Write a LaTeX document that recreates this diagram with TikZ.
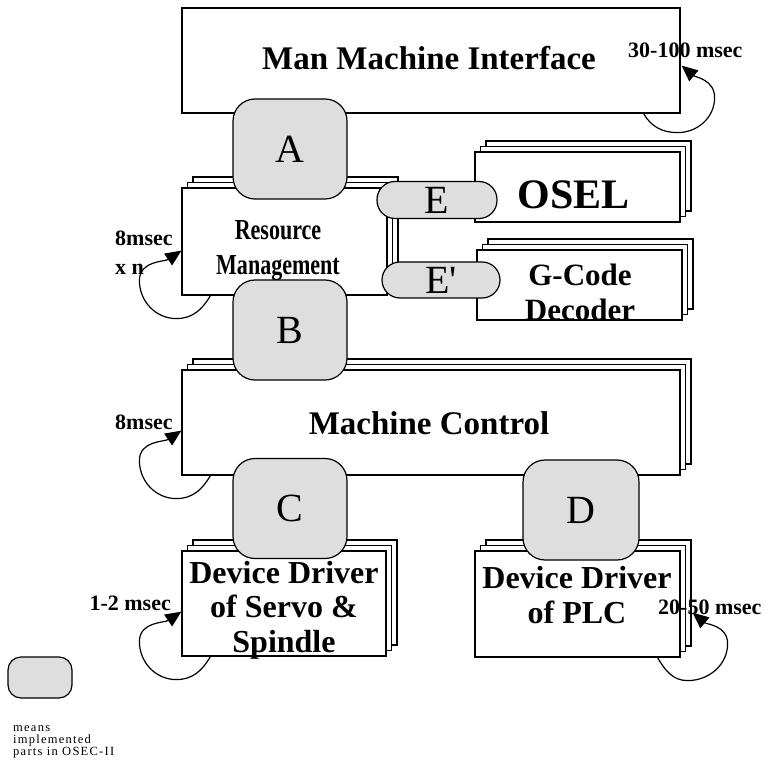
\documentclass[tikz,border=0pt]{standalone}
\usepackage{fontspec}
\setmainfont{Liberation Serif}
\usetikzlibrary{shadows,arrows.meta,calc}

\tikzset{
  layer/.style={draw, fill=white, line width=1.2pt, rectangle, inner sep=0pt},
  stackbox/.style={layer, double copy shadow={shadow xshift=5.5pt, shadow yshift=5.5pt,
      fill=white, draw=black, line width=1.2pt}},
  impl/.style={draw, fill=black!13, line width=1.2pt, rounded corners=22pt,
    minimum width=114pt, minimum height=100pt, inner sep=0pt,
    font=\fontsize{40}{40}\selectfont},
  pill/.style={impl, rounded corners=18pt, minimum width=120pt, minimum height=37pt},
  title/.style={font=\bfseries\fontsize{33}{35}\selectfont, align=center, inner sep=0pt},
  timing/.style={font=\bfseries\fontsize{22}{29}\selectfont, inner sep=0pt, align=left},
  cycle/.style={line width=1.2pt, -{Triangle[length=16pt,width=14pt]}},
  legendtext/.style={font=\fontsize{12.5}{12}\selectfont\addfontfeature{LetterSpace=10},
    align=left, inner sep=0pt},
}

\begin{document}
\begin{tikzpicture}[x=1pt,y=1pt]
\useasboundingbox (0,0) rectangle (771,-767);

% ---- module boxes ----
\node[layer, minimum width=498pt, minimum height=105pt] (mmi) at (431,-60.5) {};
\node[stackbox, minimum width=205pt, minimum height=107pt] (rm) at (284.5,-241.5) {};
\node[stackbox, minimum width=205pt, minimum height=70pt] (osel) at (577.5,-187) {};
\node[stackbox, minimum width=205pt, minimum height=70pt] (gcode) at (579.5,-285) {};
\node[stackbox, minimum width=498pt, minimum height=105pt] (mc) at (431,-422.5) {};
\node[stackbox, minimum width=204pt, minimum height=105pt] (servo) at (284,-603.5) {};
\node[stackbox, minimum width=205pt, minimum height=106pt] (plc) at (577.5,-604) {};

% ---- module titles ----
\node[title] (mmitext) at (429,-58) {Man Machine Interface};
\node[title, font=\bfseries\fontsize{29}{35}\selectfont] (rmtext) at (278,-251)
  {\scalebox{0.76}[1]{Resource}\\\scalebox{0.76}[1]{Management}};
\node[title, font=\bfseries\fontsize{42}{42}\selectfont] (oseltext) at (573.5,-195) {OSEL};
\node[title, font=\bfseries\fontsize{31}{35}\selectfont] (gcodetext) at (580,-292.5) {G-Code\\Decoder};
\node[title] (mctext) at (429,-423) {Machine Control};
\node[title, font=\bfseries\fontsize{32}{34.5}\selectfont] (servotext) at (284,-610)
  {Device Driver\\of Servo \&\\Spindle};
\node[title, font=\bfseries\fontsize{32}{35}\selectfont] (plctext) at (577,-595.5)
  {Device Driver\\of PLC};

% ---- cycle times ----
\node[timing, anchor=west] (tmmi) at (628,-50) {30-100 msec};
\node[timing, anchor=west] (trm) at (115,-252.5) {8msec\\x n};
\node[timing, anchor=west] (tmc) at (115,-422) {8msec};
\node[timing, anchor=east] (tservo) at (171,-603) {1-2 msec};
\node[timing, anchor=west] (tplc) at (658,-607) {20-50 msec};

\draw[cycle] ([xshift=-37pt]mmi.south east) to[out=-60,in=180] ++(34,-19)
  to[out=0,in=-90] ++(37,35) to[out=90,in=-40] ([xshift=1pt,yshift=48pt]mmi.south east);
\draw[cycle] ([xshift=29pt]rm.south west) to[out=-120,in=0] ++(-34,-23)
  to[out=180,in=-90] ++(-37,38) to[out=90,in=-146] ([yshift=45pt]rm.south west);
\draw[cycle] ([xshift=29pt]mc.south west) to[out=-120,in=0] ++(-34,-23)
  to[out=180,in=-90] ++(-37,38) to[out=90,in=-146] ([yshift=45pt]mc.south west);
\draw[cycle] ([xshift=29pt]servo.south west) to[out=-120,in=0] ++(-34,-23)
  to[out=180,in=-90] ++(-37,38) to[out=90,in=-146] ([yshift=45pt]servo.south west);
\draw[cycle] ([xshift=-23pt]plc.south east) to[out=-60,in=180] ++(30,-23)
  to[out=0,in=-90] ++(40,37) to[out=90,in=-40] ([xshift=12pt,yshift=45pt]plc.south east);

% ---- implemented interfaces ----
\node[impl] (ifa) at (290,-149) {A};
\node[impl] (ifb) at (290,-330) {B};
\node[impl] (ifc) at (290,-508.5) {C};
\node[impl, minimum width=116pt] (ifd) at (581,-510) {D};
\node[pill] (ife) at (437,-200) {E};
\node[pill, minimum width=118pt, minimum height=36pt] (ifep) at (441,-280) {E\textquotesingle};

% ---- legend ----
\node[impl, rounded corners=13pt, minimum width=64pt, minimum height=41pt] (key) at (40,-677.5) {};
\node[legendtext, anchor=north west] (keytext) at (13,-725)
  {means\\implemented\\parts in OSEC-II};
\end{tikzpicture}
\end{document}
